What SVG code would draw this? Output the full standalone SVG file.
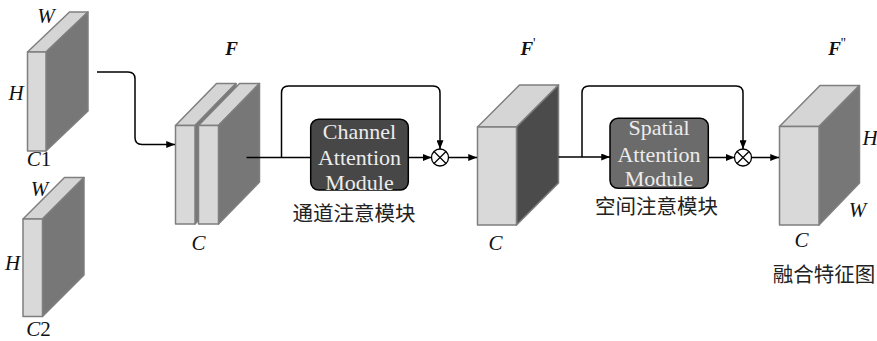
<svg xmlns="http://www.w3.org/2000/svg" width="877" height="341" viewBox="0 0 877 341">
  <defs>
    <style>
      .face-front { fill: #d9d9d9; stroke: #7f7f7f; stroke-width: 1.5; stroke-linejoin: round; }
      .face-top { fill: #d5d5d5; stroke: #7f7f7f; stroke-width: 1.5; stroke-linejoin: round; }
      .face-side { fill: #777777; stroke: #7f7f7f; stroke-width: 1.5; stroke-linejoin: round; }
      .face-side-dark { fill: #4b4b4b; stroke: #7f7f7f; stroke-width: 1.5; stroke-linejoin: round; }
      .dim { font-style: italic; font-size: 21px; fill: #111; }
      .num { font-style: normal; }
      .feat { font-style: italic; font-weight: bold; font-size: 19px; fill: #111; }
      .prime { font-style: normal; font-weight: normal; font-size: 14px; }
      .module-text { font-size: 22px; fill: #ececec; text-anchor: middle; }
      .cjk { font-size: 20.5px; fill: #222; }
      .wire { fill: none; stroke: #000; stroke-width: 1.5; }
      .mul { fill: #fff; stroke: #000; stroke-width: 1.3; }
    </style>
    <marker id="arrow" viewBox="0 0 10 8" refX="10" refY="4" markerWidth="9" markerHeight="7" markerUnits="userSpaceOnUse" orient="auto">
      <path d="M0,0 L10,4 L0,8 Z" fill="#000"/>
    </marker>
  </defs>

  <!-- input feature map C1 -->
  <g id="input-c1" font-family="'Liberation Serif', 'DejaVu Serif', serif">
    <polygon class="face-top" points="27.5,52 46,52 88,12 69.5,12"/>
    <polygon class="face-side" points="46,52 88,12 88,111 46,151"/>
    <rect class="face-front" x="27.5" y="52" width="18.5" height="99"/>
    <text class="dim" x="46" y="23" text-anchor="middle">W</text>
    <text class="dim" x="16" y="100" text-anchor="middle">H</text>
    <text class="dim" x="39" y="166" text-anchor="middle">C<tspan class="num">1</tspan></text>
  </g>

  <!-- input feature map C2 -->
  <g id="input-c2" font-family="'Liberation Serif', 'DejaVu Serif', serif">
    <polygon class="face-top" points="23,219 42.5,219 84,177.5 64.5,177.5"/>
    <polygon class="face-side" points="42.5,219 84,177.5 84,275 42.5,316.5"/>
    <rect class="face-front" x="23" y="219" width="19.5" height="97.5"/>
    <text class="dim" x="39.5" y="196" text-anchor="middle">W</text>
    <text class="dim" x="12.5" y="270" text-anchor="middle">H</text>
    <text class="dim" x="38.5" y="336" text-anchor="middle">C<tspan class="num">2</tspan></text>
  </g>

  <!-- concatenated feature map F -->
  <g id="feature-f" font-family="'Liberation Serif', 'DejaVu Serif', serif">
    <polygon class="face-top" points="175.5,125.5 195,125.5 236,83.5 216.5,83.5"/>
    <polygon class="face-side" points="195,125.5 236,83.5 236,182 195,224"/>
    <rect class="face-front" x="175.5" y="125.5" width="19.5" height="98.5"/>
    <polygon class="face-top" points="198.5,125.5 218.5,125.5 259.5,83.5 239.5,83.5"/>
    <polygon class="face-side" points="218.5,125.5 259.5,83.5 259.5,182 218.5,224"/>
    <rect class="face-front" x="198.5" y="125.5" width="20" height="98.5"/>
    <text class="feat" x="231.5" y="54.5" text-anchor="middle">F</text>
    <text class="dim" x="198.5" y="250" text-anchor="middle">C</text>
  </g>

  <!-- channel attention module -->
  <g id="channel-attention">
    <rect x="310.7" y="119.3" width="97.6" height="70.7" rx="8" fill="#474747" stroke="#000" stroke-width="1.5"/>
    <g font-family="'Liberation Serif', 'DejaVu Serif', serif">
      <text class="module-text" x="359.5" y="138.5">Channel</text>
      <text class="module-text" x="359.5" y="164.5">Attention</text>
      <text class="module-text" x="359.5" y="189.5">Module</text>
    </g>
    <text class="cjk" x="354" y="221" text-anchor="middle" font-family="'Noto Sans CJK SC', 'Noto Sans CJK JP', sans-serif">通道注意模块</text>
  </g>

  <!-- element-wise multiplication after channel attention -->
  <g id="mul-channel">
    <circle class="mul" cx="440" cy="157.5" r="8.5"/>
    <path d="M434,151.5 L446,163.5 M446,151.5 L434,163.5" stroke="#000" stroke-width="1.2"/>
  </g>

  <!-- refined feature map F' -->
  <g id="feature-f1" font-family="'Liberation Serif', 'DejaVu Serif', serif">
    <polygon class="face-top" points="477.5,127 516.5,127 558.5,85 519.5,85"/>
    <polygon class="face-side-dark" points="516.5,127 558.5,85 558.5,183 516.5,225"/>
    <rect class="face-front" x="477.5" y="127" width="39" height="98"/>
    <text class="feat" x="528" y="54.5" text-anchor="middle">F<tspan class="prime" dy="-7">'</tspan></text>
    <text class="dim" x="495.5" y="250" text-anchor="middle">C</text>
  </g>

  <!-- spatial attention module -->
  <g id="spatial-attention">
    <rect x="610" y="118.3" width="98.3" height="70" rx="8" fill="#6b6b6b" stroke="#000" stroke-width="1.5"/>
    <g font-family="'Liberation Serif', 'DejaVu Serif', serif">
      <text class="module-text" x="659" y="135">Spatial</text>
      <text class="module-text" x="659" y="161.5">Attention</text>
      <text class="module-text" x="659" y="185.5">Module</text>
    </g>
    <text class="cjk" x="656.5" y="213.5" text-anchor="middle" font-family="'Noto Sans CJK SC', 'Noto Sans CJK JP', sans-serif">空间注意模块</text>
  </g>

  <!-- element-wise multiplication after spatial attention -->
  <g id="mul-spatial">
    <circle class="mul" cx="743" cy="157.5" r="8.5"/>
    <path d="M737,151.5 L749,163.5 M749,151.5 L737,163.5" stroke="#000" stroke-width="1.2"/>
  </g>

  <!-- fused feature map F'' -->
  <g id="feature-f2" font-family="'Liberation Serif', 'DejaVu Serif', serif">
    <polygon class="face-top" points="779.5,126.5 819,126.5 859.5,85.5 820,85.5"/>
    <polygon class="face-side" points="819,126.5 859.5,85.5 859.5,183 819,225"/>
    <rect class="face-front" x="779.5" y="126.5" width="39.5" height="98.5"/>
    <text class="feat" x="837" y="54.5" text-anchor="middle">F<tspan class="prime" dy="-7">''</tspan></text>
    <text class="dim" x="870" y="145" text-anchor="middle">H</text>
    <text class="dim" x="857.5" y="217" text-anchor="middle">W</text>
    <text class="dim" x="801.5" y="247" text-anchor="middle">C</text>
    <text class="cjk" x="824" y="282" text-anchor="middle" font-family="'Noto Sans CJK SC', 'Noto Sans CJK JP', sans-serif">融合特征图</text>
  </g>

  <!-- connectors -->
  <g id="connectors">
    <path class="wire" d="M97,72 H128 Q135,72 135,79 V137.5 Q135,144.5 142,144.5 H175" marker-end="url(#arrow)"/>
    <path class="wire" d="M246.5,157.5 H310.7"/>
    <path class="wire" d="M281.5,157.5 V93 Q281.5,86 288.5,86 H433 Q440,86 440,93 V149" marker-end="url(#arrow)"/>
    <path class="wire" d="M408.3,157.5 H431.5" marker-end="url(#arrow)"/>
    <path class="wire" d="M448.5,157.5 H477" marker-end="url(#arrow)"/>
    <path class="wire" d="M558.5,157 H610" marker-end="url(#arrow)"/>
    <path class="wire" d="M582,157 V93 Q582,86 589,86 H736 Q743,86 743,93 V149" marker-end="url(#arrow)"/>
    <path class="wire" d="M708.3,157.5 H734.5" marker-end="url(#arrow)"/>
    <path class="wire" d="M751.5,157.5 H779" marker-end="url(#arrow)"/>
  </g>
</svg>
